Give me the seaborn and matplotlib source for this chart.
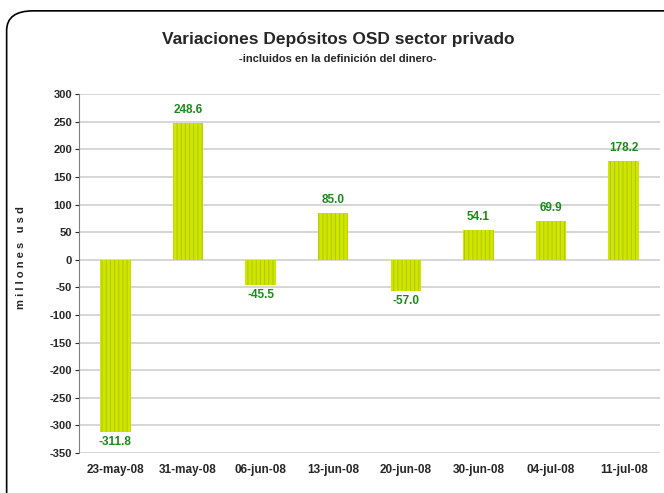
import matplotlib
matplotlib.use("Agg")
import matplotlib.pyplot as plt
import seaborn as sns
import pandas as pd
from matplotlib.patches import FancyBboxPatch

fechas = ["23-may-08", "31-may-08", "06-jun-08", "13-jun-08", "20-jun-08", "30-jun-08", "04-jul-08", "11-jul-08"]
variaciones = [-311.8, 248.6, -45.5, 85.0, -57.0, 54.1, 69.9, 178.2]
yticks = list(range(-350, 301, 50))

df = pd.DataFrame({"fecha": fechas, "valor": variaciones})

sns.set_style("white")
plt.rcParams['font.family'] = ['Liberation Sans', 'DejaVu Sans']
plt.rcParams['hatch.linewidth'] = 0.7

fig = plt.figure(figsize=(6.64, 4.93), dpi=100)
border = FancyBboxPatch((0.010, -0.05), 1.05, 1.028, boxstyle="round,pad=0,rounding_size=0.04",
                        transform=fig.transFigure, fill=False, edgecolor="black", linewidth=1.2)
fig.patches.append(border)

ax = fig.add_axes([0.119, 0.081, 0.875, 0.728])
sns.barplot(data=df, x="fecha", y="valor", ax=ax, color="#cfe600", width=0.42,
            hatch="||||", edgecolor="#b0c800", linewidth=0, saturation=1)

ax.set_ylim(-350, 300)
ax.set_yticks(yticks)
ax.set_yticklabels([str(v) for v in yticks], fontsize=8, fontweight="bold")
ax.set_xticklabels(fechas, fontsize=8.5, fontweight="bold")
ax.tick_params(axis="x", length=0, pad=8)
ax.tick_params(axis="y", length=3, direction="out", left=True, pad=2)
ax.grid(axis="y", color="#d0d0d0", linewidth=1.2)
ax.set_axisbelow(True)
for s in ["top", "right", "bottom"]:
    ax.spines[s].set_visible(False)
ax.spines["left"].set_color("#808080")
ax.set_xlabel("")
ax.set_ylabel("m i l l o n e s   u s d", fontsize=8, fontweight="bold")
ax.yaxis.set_label_coords(-0.092, 0.545)

for i, v in enumerate(variaciones):
    if v >= 0:
        ax.annotate(f"{v:.1f}", (i, v), xytext=(0, 5), textcoords="offset points",
                    ha="center", va="bottom", color="#1a8a1a", fontsize=8.5, fontweight="bold")
    else:
        ax.annotate(f"{v:.1f}", (i, v), xytext=(0, -3), textcoords="offset points",
                    ha="center", va="top", color="#1a8a1a", fontsize=8.5, fontweight="bold")

fig.text(0.509, 0.920, "Variaciones Depósitos OSD sector privado", ha="center", va="center",
         fontsize=12.5, fontweight="bold")
fig.text(0.509, 0.880, "-incluidos en la definición del dinero-", ha="center", va="center",
         fontsize=8, fontweight="bold")

fig.savefig("out.png", dpi=100)
